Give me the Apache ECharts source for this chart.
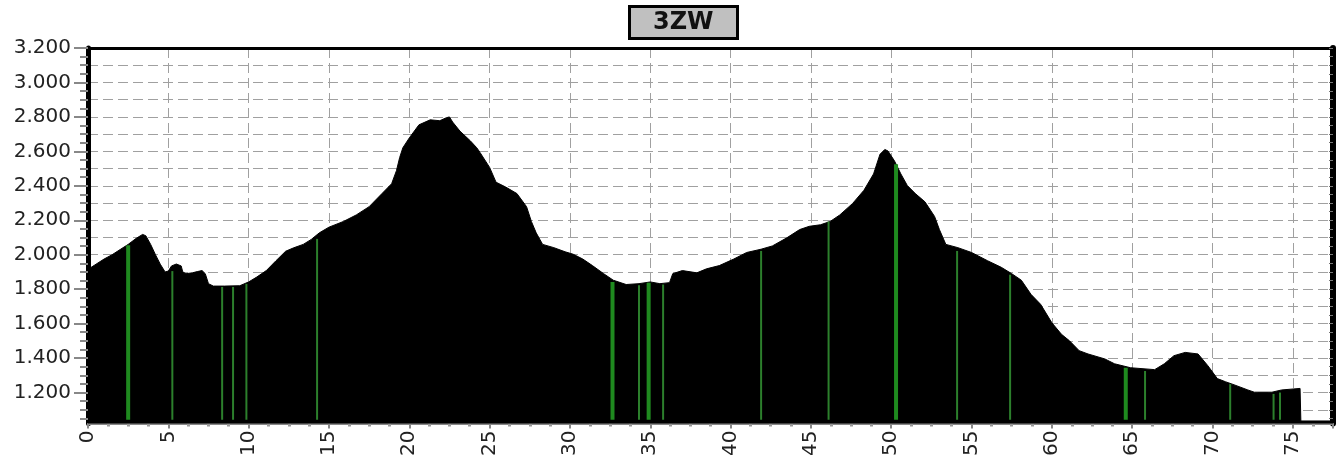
<!DOCTYPE html>
<html>
<head>
<meta charset="utf-8">
<title>3ZW</title>
<script src="https://cdn.jsdelivr.net/npm/echarts@6/dist/echarts.min.js"></script>
<style>
  html, body { margin: 0; padding: 0; background: #fff; }
  #chart { width: 1338px; height: 459px; }
</style>
</head>
<body>
<div id="chart"></div>
<script>
// elevation profile: [km, metres]
const profile = [
  [0, 1915], [0.5, 1945], [1.0, 1975], [1.5, 2000], [2.0, 2030], [2.5, 2060],
  [3.0, 2095], [3.4, 2118], [3.6, 2110], [3.9, 2060], [4.2, 2000], [4.5, 1945],
  [4.8, 1900], [5.0, 1905], [5.2, 1935], [5.5, 1946], [5.8, 1935], [5.9, 1900],
  [6.1, 1890], [6.5, 1895], [6.8, 1902], [7.1, 1908], [7.3, 1890], [7.5, 1832],
  [7.8, 1818], [8.5, 1818], [9.45, 1820], [9.7, 1830], [10.0, 1842], [10.5, 1870],
  [11.1, 1908], [11.7, 1965], [12.3, 2020], [12.8, 2040], [13.4, 2060], [13.9, 2089],
  [14.4, 2127], [15.0, 2160], [15.9, 2193], [16.7, 2231], [17.5, 2279], [18.3, 2355],
  [18.9, 2412], [19.2, 2488], [19.4, 2564], [19.6, 2621], [20.0, 2678], [20.6, 2754],
  [21.3, 2783], [21.9, 2778], [22.3, 2795], [22.5, 2800], [22.7, 2770], [23.15, 2718],
  [23.8, 2661], [24.2, 2621], [24.4, 2594], [25.0, 2507], [25.4, 2421], [26.0, 2393],
  [26.7, 2355], [27.3, 2279], [27.6, 2193], [27.9, 2127], [28.3, 2060], [29.0, 2041],
  [29.7, 2017], [30.2, 2003], [30.8, 1975], [31.4, 1937], [32.1, 1890], [32.7, 1852],
  [33.5, 1827], [34.3, 1832], [35.0, 1842], [35.6, 1832], [36.2, 1838], [36.4, 1890],
  [37.0, 1908], [37.9, 1895], [38.5, 1918], [39.3, 1937], [40.2, 1975], [41.0, 2013],
  [41.9, 2032], [42.6, 2051], [43.5, 2098], [44.3, 2146], [44.9, 2165], [45.6, 2174],
  [46.2, 2193], [46.8, 2231], [47.6, 2298], [48.3, 2374], [48.9, 2469], [49.3, 2583],
  [49.6, 2611], [49.8, 2602], [50.2, 2545], [50.6, 2469], [51.0, 2402], [51.5, 2355],
  [52.1, 2307], [52.7, 2222], [53.0, 2146], [53.4, 2060], [54.15, 2041], [55.0, 2013],
  [56.0, 1965], [56.85, 1927], [57.5, 1890], [58.1, 1852], [58.7, 1770], [59.3, 1712],
  [60.0, 1605], [60.6, 1538], [61.1, 1500], [61.7, 1443], [62.25, 1424], [63.3, 1395],
  [63.9, 1367], [64.9, 1344], [66.4, 1333], [67.0, 1367], [67.6, 1414], [68.3, 1433],
  [69.1, 1424], [69.7, 1357], [70.3, 1281], [70.8, 1263], [71.4, 1243], [72.2, 1215],
  [72.6, 1202], [73.7, 1202], [74.3, 1215], [75.45, 1224], [75.5, 1035], [77.5, 1035]
]

// green markers [km, metres]
const markersWide = [[2.5, 2055], [32.65, 1842], [34.9, 1838], [50.3, 2525], [64.6, 1344]]
const markersThin = [
  [5.25, 1905], [8.35, 1813], [9.03, 1813], [9.86, 1831], [14.26, 2092],
  [34.3, 1823], [35.8, 1827], [41.9, 2022], [46.1, 2193], [54.1, 2022],
  [57.4, 1884], [65.8, 1325], [71.1, 1249], [73.8, 1192], [74.2, 1200]
]

const yLabels = [1200, 1400, 1600, 1800, 2000, 2200, 2400, 2600, 2800, 3000, 3200]
const yGrid = [1100, 1200, 1300, 1400, 1500, 1600, 1700, 1800, 1900, 2000, 2100, 2200, 2300, 2400, 2500, 2600, 2700, 2800, 2900, 3000, 3100]
const yMinor = []
for (let v = 1050; v <= 3200; v += 50) yMinor.push(v)

const Y_MIN = 1020
const Y_MAX = 3200
const MARK_BASE = 1042

const chart = echarts.init(document.getElementById('chart'))

function markerRenderer (w, color) {
  return function (params, api) {
    const top = api.coord([api.value(0), api.value(1)])
    const bot = api.coord([api.value(0), MARK_BASE])
    return {
      type: 'rect',
      shape: { x: top[0] - w / 2, y: top[1], width: w, height: bot[1] - top[1] },
      style: { fill: color }
    }
  }
}

const font = 'DejaVu Sans'
const plainY = { type: 'value', min: Y_MIN, max: Y_MAX, axisLabel: { show: false }, splitLine: { show: false } }

const option = {
  animation: false,
  title: {
    text: '3ZW',
    left: 629,
    top: 6,
    padding: [3, 24, 3, 24],
    backgroundColor: '#c0c0c0',
    borderColor: '#000',
    borderWidth: 3,
    textStyle: { fontFamily: font, fontWeight: 'bold', fontSize: 24, color: '#111', lineHeight: 27 }
  },
  grid: { left: 88, right: 5, top: 48, bottom: 28 },
  xAxis: [
    {
      type: 'value',
      min: 0,
      max: 77.5,
      interval: 5,
      position: 'bottom',
      axisLine: { lineStyle: { color: '#888', width: 2 } },
      axisTick: { length: 5, lineStyle: { color: '#888', width: 2 } },
      minorTick: { show: true, splitNumber: 4, length: 3, lineStyle: { color: '#999', width: 3 } },
      axisLabel: {
        rotate: 90,
        margin: 7,
        fontFamily: font,
        fontSize: 20,
        color: '#222',
        showMaxLabel: false
      },
      splitLine: { show: true, lineStyle: { color: '#a0a0a0', type: [10, 5], width: 1 } }
    },
    {
      type: 'value',
      min: 0,
      max: 77.5,
      position: 'top',
      axisLine: { show: true, lineStyle: { color: '#000', width: 3 } },
      axisTick: { show: false },
      axisLabel: { show: false },
      splitLine: { show: false }
    }
  ],
  yAxis: [
    {
      type: 'value',
      min: Y_MIN,
      max: Y_MAX,
      position: 'left',
      axisLine: { show: true, lineStyle: { color: '#000', width: 5 } },
      axisTick: { show: true, customValues: yMinor, length: 8, lineStyle: { color: '#888', width: 2 } },
      axisLabel: {
        customValues: yLabels,
        margin: 17,
        fontFamily: font,
        fontSize: 20,
        color: '#222',
        formatter: v => (v / 1000).toFixed(3)
      },
      splitLine: { show: false }
    },
    Object.assign({}, plainY, {
      position: 'left',
      axisLine: { show: false },
      axisTick: { show: true, customValues: yLabels, length: 14, lineStyle: { color: '#888', width: 2 } }
    }),
    Object.assign({}, plainY, {
      position: 'right',
      axisLine: { show: true, lineStyle: { color: '#000', width: 6 } },
      axisTick: { show: true, inside: true, customValues: yMinor, length: 4, lineStyle: { color: '#777', width: 1 } }
    }),
    Object.assign({}, plainY, {
      position: 'left',
      axisLine: { show: false },
      axisTick: { show: false, customValues: yGrid },
      splitLine: { show: true, lineStyle: { color: '#a0a0a0', type: [10, 5], width: 1 } }
    })
  ],
  series: [
    {
      type: 'line',
      data: profile,
      yAxisIndex: 0,
      symbol: 'none',
      lineStyle: { color: '#000', width: 1 },
      areaStyle: { color: '#000', opacity: 1 },
      z: 2
    },
    {
      type: 'custom',
      data: markersWide,
      yAxisIndex: 0,
      renderItem: markerRenderer(4, '#1f8a1f'),
      z: 3
    },
    {
      type: 'custom',
      data: markersThin,
      yAxisIndex: 0,
      renderItem: markerRenderer(2, '#2c7f2c'),
      z: 3
    }
  ]
}

chart.setOption(option)
</script>
</body>
</html>
